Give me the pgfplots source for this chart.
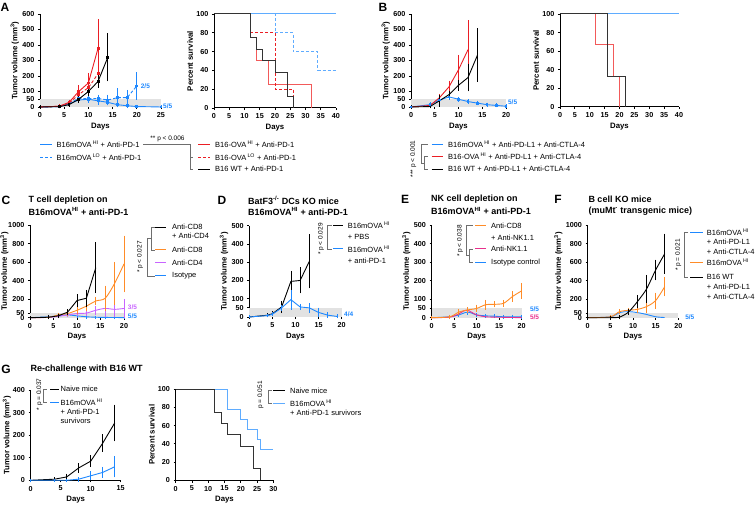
\documentclass[border=0pt]{standalone}
\usepackage{fontspec}
\setmainfont{Liberation Sans}
\setsansfont{Liberation Sans}
\usepackage{pgfplots}
\pgfplotsset{compat=1.18}
\definecolor{bC}{RGB}{30,136,255}
\definecolor{bL}{RGB}{95,172,255}
\definecolor{rC}{RGB}{235,30,36}
\definecolor{rL}{RGB}{242,90,90}
\definecolor{oC}{RGB}{255,140,40}
\definecolor{vC}{RGB}{200,100,255}
\definecolor{pC}{RGB}{232,48,140}
\definecolor{band}{RGB}{226,226,226}
\definecolor{brk}{RGB}{110,110,110}
\newcommand\fl{\fontsize{7.5}{8}\selectfont}
\newcommand\ft{\fontsize{9}{10}\selectfont\bfseries}
\newcommand\fp{\fontsize{6.5}{7}\selectfont}
\newcommand\fa{\fontsize{6.5}{7}\selectfont\bfseries}
\newcommand\fL{\fontsize{12}{13}\selectfont\bfseries}
\tikzset{an/.style={font=\fa, anchor=west, inner sep=0}, dsh/.style={dash pattern=on 3pt off 2pt}}
\pgfplotsset{
  gp/.style={
    scale only axis, anchor=south west, clip=false,
    axis lines=left,
    axis line style={-, line width=1pt, black},
    tick align=outside,
    major tick length=2.2pt,
    tick style={black, line width=0.8pt},
    /pgf/number format/assume math mode=true,
    /pgf/number format/1000 sep={},
    scaled ticks=false,
    tick label style={font=\fontsize{7.2}{7.5}\selectfont\bfseries},
    label style={font=\fontsize{7.8}{8.5}\selectfont\bfseries},
    xlabel={Days},
    xlabel style={yshift=2pt},
    ylabel style={yshift=-3.5pt},
    every axis plot/.append style={line width=0.9pt},
  },
  tumor/.style={gp, ylabel={Tumor volume (mm\textsuperscript{3})}},
  surv/.style={gp, ylabel={Percent survival}, ymin=0, ymax=100, ytick={0,20,...,100}},
  eb/.style={/pgfplots/error bars/y dir=both, /pgfplots/error bars/y explicit,
    /pgfplots/error bars/error bar style={solid, line width=0.7pt},
    /pgfplots/error bars/error mark options={solid, line width=0.7pt, mark size=1.5pt}},
  sq/.style={mark=square*, mark size=0.9pt, mark options={solid}},
}
\begin{document}
\begin{tikzpicture}[x=1pt,y=1pt]
\useasboundingbox (0,0) rectangle (755,506);

% ===== A tumor
\begin{axis}[tumor, at={(40pt,399pt)}, width=121pt, height=93pt,
  xmin=0, xmax=25, ymin=0, ymax=600, xtick={0,5,...,25},
  ytick={0,50,100,200,300,400,500,600}]
\fill[band] (axis cs:0,0) rectangle (axis cs:25,50);
\addplot[bC, sq, eb] table[x=x,y=y,y error=e] {
x y e
0 0 0
4 3 2
6 20 5
8 45 10
10 50 12
12 40 15
14 30 10
16 15 8
18 8 5
20 3 3
25 0 0
};
\addplot[bC, dsh, sq, eb] table[x=x,y=y,y error=e] {
x y e
0 0 0
4 3 2
6 25 8
8 55 12
10 55 15
12 55 15
14 45 25
16 60 50
18 60 40
20 136 80
};
\addplot[rC, sq, eb] table[x=x,y=y,y error=e] {
x y e
0 0 0
4 5 3
6 30 8
8 100 30
10 155 55
12 380 175
};
\addplot[rC, dsh, sq, eb] table[x=x,y=y,y error=e] {
x y e
0 0 0
4 5 3
6 25 8
8 80 20
10 125 25
12 215 75
};
\addplot[black, sq, eb] table[x=x,y=y,y error=e] {
x y e
0 0 0
4 2 2
6 15 5
8 50 12
10 100 18
12 165 30
14 320 145
};
\node[an, text=bC] at (axis cs:25.4,8) {5/5};
\node[an, text=bC] at (axis cs:20.8,135) {2/5};
\end{axis}

% ===== A survival
\begin{axis}[surv, at={(214pt,398pt)}, width=122pt, height=94pt,
  xmin=0, xmax=40, xtick={0,5,...,40}]
\addplot[const plot, bL, line width=1pt] coordinates {(0,100)(40,100)};
\addplot[const plot, bL, dsh, line width=1pt] coordinates {(0,100)(20,80)(26,60)(34,40)(40,40)};
\addplot[const plot, rL, line width=1pt] coordinates {(0,100)(12,75)(14,50)(18,25)(32,0)};
\addplot[const plot, rC, dsh, line width=1pt] coordinates {(0,100)(12,80)(20,20)(26,0)};
\addplot[const plot, black!80, line width=1pt] coordinates {(0,100)(12,75)(14,62.5)(16,50)(20,37.5)(24,12.5)(26,0)};
\end{axis}

% ===== B tumor
\begin{axis}[tumor, at={(411pt,399pt)}, width=95pt, height=93pt,
  xmin=0, xmax=20, ymin=0, ymax=600, xtick={0,5,...,20},
  ytick={0,50,100,200,300,400,500,600}]
\fill[band] (axis cs:0,0) rectangle (axis cs:20,50);
\addplot[bC, sq, eb] table[x=x,y=y,y error=e] {
x y e
0 0 0
4 15 5
6 45 8
8 65 10
10 50 8
12 35 6
14 25 5
16 15 4
18 10 3
20 5 2
};
\addplot[rC, eb] table[x=x,y=y,y error=e] {
x y e
0 0 0
4 10 4
6 60 15
8 130 30
10 240 87
12 370 180
};
\addplot[black, eb] table[x=x,y=y,y error=e] {
x y e
0 0 0
4 3 2
6 40 30
8 80 15
10 140 25
12 190 80
14 335 162
};
\node[an, text=bC] at (axis cs:20.4,30) {5/5};
\end{axis}

% ===== B survival
\begin{axis}[surv, at={(560pt,399pt)}, width=119pt, height=93pt,
  xmin=0, xmax=40, xtick={0,5,...,40}]
\addplot[const plot, bL, line width=1pt] coordinates {(0,100)(40,100)};
\addplot[const plot, rL, line width=1pt] coordinates {(0,100)(12,66.7)(18,33.3)(20,0)};
\addplot[const plot, black!80, line width=1pt] coordinates {(0,100)(16,33.3)(22,0)};
\end{axis}

% ===== C
\begin{axis}[tumor, at={(30pt,188.3pt)}, width=94pt, height=92.7pt,
  xmin=0, xmax=20, ymin=0, ymax=1000, xtick={0,5,...,20},
  ytick={0,50,200,400,600,800,1000}, ylabel style={yshift=-3.6pt}]
\fill[band] (axis cs:0,0) rectangle (axis cs:20,50);
\addplot[bC, smooth, tension=0.5, eb] table[x=x,y=y,y error=e] {
x y e
0 0 0
4 10 3
6 20 5
8 30 5
10 20 5
12 10 3
14 5 2
16 3 2
18 2 1
20 1 1
};
\addplot[vC, smooth, tension=0.5, eb] table[x=x,y=y,y error=e] {
x y e
0 0 0
4 3 2
6 15 5
8 30 8
10 45 10
12 50 15
14 80 30
16 100 80
18 90 70
20 100 85
};
\addplot[oC, smooth, tension=0.5, eb] table[x=x,y=y,y error=e] {
x y e
0 0 0
4 5 3
6 30 8
8 45 10
10 80 20
12 125 35
14 180 30
16 210 120
18 370 215
20 580 290
};
\addplot[black, eb] table[x=x,y=y,y error=e] {
x y e
0 0 0
4 5 3
6 20 8
8 60 15
10 185 50
12 210 75
14 540 260
};
\node[an, text=vC] at (axis cs:20.8,108) {3/5};
\node[an, text=bC] at (axis cs:20.8,11) {5/5};
\end{axis}

% ===== D
\begin{axis}[tumor, at={(249.3pt,189pt)}, width=92.4pt, height=91.3pt,
  xmin=0, xmax=20, ymin=0, ymax=500, xtick={0,5,...,20},
  ytick={0,50,100,200,300,400,500}]
\fill[band] (axis cs:0,0) rectangle (axis cs:20,50);
\addplot[black, eb] table[x=x,y=y,y error=e] {
x y e
0 0 0
4 10 3
5 18 4
7 55 25
9 195 50
11 200 63
13 305 140
};
\addplot[bC, eb] table[x=x,y=y,y error=e] {
x y e
0 0 0
4 8 2
5 15 4
7 50 8
9 95 47
11 55 8
13 50 18
15 25 18
17 10 8
19 3 3
};
\node[an, text=bC] at (axis cs:20.5,16) {4/4};
\end{axis}

% ===== E
\begin{axis}[tumor, at={(431.7pt,188.3pt)}, width=90pt, height=92.7pt,
  xmin=0, xmax=20, ymin=0, ymax=500, xtick={0,5,...,20},
  ytick={0,50,100,200,300,400,500}]
\fill[band] (axis cs:0,0) rectangle (axis cs:20,50);
\addplot[bC, smooth, tension=0.5, eb] table[x=x,y=y,y error=e] {
x y e
0 0 0
4 5 2
6 15 3
8 30 5
10 15 3
12 10 3
14 8 2
16 5 2
18 5 2
20 5 2
};
\addplot[pC, smooth, tension=0.5] table[x=x,y=y] {
x y
0 0
4 3
6 20
7 35
8 40
10 15
12 5
14 3
16 2
18 1
20 0
};
\addplot[oC, smooth, tension=0.5, eb] table[x=x,y=y,y error=e] {
x y e
0 0 0
4 5 2
6 30 8
8 42 6
10 50 12
12 70 18
14 72 8
16 78 10
18 115 20
20 145 35
};
\node[an, text=bC] at (axis cs:21.8,48) {5/5};
\node[an, text=pC] at (axis cs:21.8,5) {5/5};
\end{axis}

% ===== F
\begin{axis}[tumor, at={(587.7pt,188.3pt)}, width=90.6pt, height=92.7pt,
  xmin=0, xmax=20, ymin=0, ymax=1000, xtick={0,5,...,20},
  ytick={0,50,200,400,600,800,1000}]
\fill[band] (axis cs:0,0) rectangle (axis cs:20,50);
\addplot[bC, smooth, tension=0.6] table[x=x,y=y] {
x y
0 0
5 10
7 55
9 65
11 55
13 35
15 10
17 2
};
\addplot[oC, smooth, tension=0.5, eb] table[x=x,y=y,y error=e] {
x y e
0 0 0
5 10 3
7 65 10
9 80 10
11 90 20
13 120 50
15 185 70
17 335 90
};
\addplot[black, smooth, tension=0.4, eb] table[x=x,y=y,y error=e] {
x y e
0 0 0
5 0 0
7 5 3
9 60 15
11 175 55
13 310 135
15 515 95
17 690 200
};
\node[an, text=bC] at (axis cs:21.5,2) {5/5};
\end{axis}

% ===== G tumor
\begin{axis}[tumor, at={(30.7pt,25.7pt)}, width=90pt, height=90pt,
  xmin=0, xmax=15, ymin=0, ymax=400, xtick={0,5,10,15},
  ytick={0,100,200,300,400}, ylabel style={yshift=-1.5pt}]
\addplot[black, eb] table[x=x,y=y,y error=e] {
x y e
0 0 0
4 5 2
6 15 8
8 55 15
10 85 20
12 165 32
14 255 75
};
\addplot[bC, eb] table[x=x,y=y,y error=e] {
x y e
0 0 0
4 0 0
6 0 0
8 5 4
10 20 14
12 35 18
14 60 40
};
\end{axis}

% ===== G survival
\begin{axis}[surv, at={(175.7pt,25.7pt)}, width=97.6pt, height=91pt,
  xmin=0, xmax=30, xtick={0,5,...,30}]
\addplot[const plot, bL, line width=1pt] coordinates {(0,100)(16,77.8)(20,66.7)(22,55.6)(25,44.4)(26,33.3)(30,33.3)};
\addplot[const plot, black!80, line width=1pt] coordinates {(0,100)(12,75)(14,62.5)(16,50)(20,37.5)(24,12.5)(26,0)};
\end{axis}

% ===== overlay text (pixel coordinates, y downward)
\begin{scope}[shift={(0,506)}, y=-1pt]
\tikzset{lt/.style={anchor=west, inner sep=0, font=\fl}, lw/.style={line width=1pt}}
% panel letters
\node[font=\fL] at (5,7.5) {A};
\node[font=\fL] at (383,7.5) {B};
\node[font=\fL] at (6,200) {C};
\node[font=\fL] at (222,200) {D};
\node[font=\fL] at (405,199) {E};
\node[font=\fL] at (558,199) {F};
\node[font=\fL] at (6,369) {G};
% titles
\node[anchor=west, inner sep=0, font=\ft] at (28.5,200) {T cell depletion on};
\node[anchor=west, inner sep=0, font=\ft] at (28.5,211.7) {B16mOVA\textsuperscript{HI} + anti-PD-1};
\node[anchor=west, inner sep=0, font=\ft] at (248,200) {BatF3\textsuperscript{-/-} DCs KO mice};
\node[anchor=west, inner sep=0, font=\ft] at (248,211.7) {B16mOVA\textsuperscript{HI} + anti-PD-1};
\node[anchor=west, inner sep=0, font=\ft] at (431,199.3) {NK cell depletion on};
\node[anchor=west, inner sep=0, font=\ft] at (431,211) {B16mOVA\textsuperscript{HI} + anti-PD-1};
\node[anchor=west, inner sep=0, font=\ft] at (588.3,199.3) {B cell KO mice};
\node[anchor=west, inner sep=0, font=\ft] at (588.3,211) {(muMt\textsuperscript{-} transgenic mice)};
\node[anchor=west, inner sep=0, font=\ft] at (30.5,369.3) {Re-challenge with B16 WT};

% A legend
\draw[bC, lw] (40,144.7) -- (51.7,144.7);
\node[lt] at (56.5,144.7) {B16mOVA\,\textsuperscript{HI} + Anti-PD-1};
\draw[bC, lw, dsh] (40,157.3) -- (51.7,157.3);
\node[lt] at (56.5,157.3) {B16mOVA\,\textsuperscript{LO} + Anti-PD-1};
\draw[brk, line width=0.5pt] (143,144.7) -- (190,144.7) -- (190,169.3) -- (193,169.3);
\draw[brk, line width=0.5pt] (190,157.3) -- (193,157.3);
\node[font=\fp] at (167.5,139.3) {** p < 0.006};
\draw[rC, lw] (198.3,144.7) -- (210,144.7);
\node[lt] at (215,144.7) {B16-OVA\,\textsuperscript{HI} + Anti-PD-1};
\draw[rC, lw, dsh] (198.3,157.3) -- (210,157.3);
\node[lt] at (215,157.3) {B16-OVA\,\textsuperscript{LO} + Anti-PD-1};
\draw[black, lw] (198.3,169.3) -- (210,169.3);
\node[lt] at (215,169.3) {B16 WT + Anti-PD-1};

% B legend
\draw[bC, lw] (431.7,144.5) -- (443.3,144.5);
\node[lt] at (448,144.5) {B16mOVA\,\textsuperscript{HI} + Anti-PD-L1 + Anti-CTLA-4};
\draw[rC, lw] (431.7,156.7) -- (443.3,156.7);
\node[lt] at (448,156.7) {B16-OVA\,\textsuperscript{HI} + Anti-PD-L1 + Anti-CTLA-4};
\draw[black, lw] (431.7,169.3) -- (443.3,169.3);
\node[lt] at (448,169.3) {B16 WT + Anti-PD-L1 + Anti-CTLA-4};
\draw[brk, line width=0.5pt] (428,144.5) -- (421,144.5) -- (421,163) -- (424.3,163);
\draw[brk, line width=0.5pt] (428,156.7) -- (424.3,156.7) -- (424.3,169.3) -- (428,169.3);
\node[font=\fp, rotate=90] at (413.3,159) {*** p < 0.001};

% C legend
\draw[black, lw] (155,227.3) -- (166,227.3);
\node[lt] at (172,227.3) {Anti-CD8};
\node[lt] at (172,236) {+ Anti-CD4};
\draw[oC, lw] (155,250) -- (166,250);
\node[lt] at (172,250) {Anti-CD8};
\draw[vC, lw] (155,262.7) -- (166,262.7);
\node[lt] at (172,262.7) {Anti-CD4};
\draw[bC, lw] (155,276) -- (166,276);
\node[lt] at (172,276) {Isotype};
\draw[brk, line width=0.5pt] (155,227.3) -- (151,227.3) -- (151,250) -- (155,250);
\draw[brk, line width=0.5pt] (151,238.6) -- (147.3,238.6) -- (147.3,276) -- (155,276);
\node[font=\fp, rotate=90] at (140,257) {* p < 0.027};

% D legend
\draw[black, lw] (333,225.7) -- (343,225.7);
\node[lt] at (347.7,225.7) {B16mOVA\,\textsuperscript{HI}};
\node[lt] at (347.7,237) {+ PBS};
\draw[bC, lw] (333,249) -- (343,249);
\node[lt] at (347.7,249) {B16mOVA\,\textsuperscript{HI}};
\node[lt] at (347.7,261) {+ anti-PD-1};
\draw[brk, line width=0.5pt] (331.7,225.7) -- (327.3,225.7) -- (327.3,249) -- (331.7,249);
\node[font=\fp, rotate=90] at (321,239) {* p < 0.029};

% E legend
\draw[oC, lw] (475,225.7) -- (486,225.7);
\node[lt] at (491,225.7) {Anti-CD8};
\node[lt] at (491,237.7) {+ Anti-NK1.1};
\draw[pC, lw] (475,249) -- (486,249);
\node[lt] at (491,249) {Anti-NK1.1};
\draw[bC, lw] (475,262.3) -- (486,262.3);
\node[lt] at (491,262.3) {Isotype control};
\draw[brk, line width=0.5pt] (472.7,249) -- (469.3,249) -- (469.3,262.3) -- (472.7,262.3);
\draw[brk, line width=0.5pt] (472.7,225.7) -- (466.7,225.7) -- (466.7,255.6) -- (469.3,255.6);
\node[font=\fp, rotate=90] at (460,241) {* p < 0.038};

% F legend
\draw[bC, lw] (690,232.3) -- (703,232.3);
\node[lt] at (706.7,232.3) {B16mOVA\,\textsuperscript{HI}};
\node[lt] at (706.7,242) {+ Anti-PD-L1};
\node[lt] at (706.7,251.7) {+ Anti-CTLA-4};
\draw[oC, lw] (690,262.3) -- (703,262.3);
\node[lt] at (706.7,262.3) {B16mOVA\,\textsuperscript{HI}};
\draw[black, lw] (690,277.3) -- (703,277.3);
\node[lt] at (706.7,277.3) {B16 WT};
\node[lt] at (706.7,287) {+ Anti-PD-L1};
\node[lt] at (706.7,297) {+ Anti-CTLA-4};
\draw[brk, line width=0.5pt] (688.3,232.3) -- (684.7,232.3) -- (684.7,277.3) -- (688.3,277.3);
\node[font=\fp, rotate=90] at (678.3,255) {* p = 0.021};

% G left legend
\draw[black, lw] (50,389.3) -- (58.5,389.3);
\node[lt] at (60.5,389.3) {Naive mice};
\draw[bC, lw] (50,402.7) -- (58.5,402.7);
\node[lt] at (60.5,402.7) {B16mOVA\,\textsuperscript{HI}};
\node[lt] at (60.5,411.7) {+ Anti-PD-1};
\node[lt] at (60.5,420.5) {survivors};
\draw[brk, line width=0.5pt] (47,389.3) -- (43.3,389.3) -- (43.3,402.7) -- (47,402.7);
\node[font=\fp, rotate=90] at (39.5,394.5) {* p = 0.037};

% G right legend
\draw[black, lw] (273.3,390.7) -- (285,390.7);
\node[lt] at (290,390.7) {Naive mice};
\draw[bL, lw] (273.3,403.3) -- (285,403.3);
\node[lt] at (290,403.3) {B16mOVA\,\textsuperscript{HI}};
\node[lt] at (290,412.7) {+ Anti-PD-1 survivors};
\draw[brk, line width=0.5pt] (272,390.7) -- (268.3,390.7) -- (268.3,403.3) -- (272,403.3);
\node[font=\fp, rotate=90] at (260.5,395) {p = 0.051};
\end{scope}
\end{tikzpicture}
\end{document}
